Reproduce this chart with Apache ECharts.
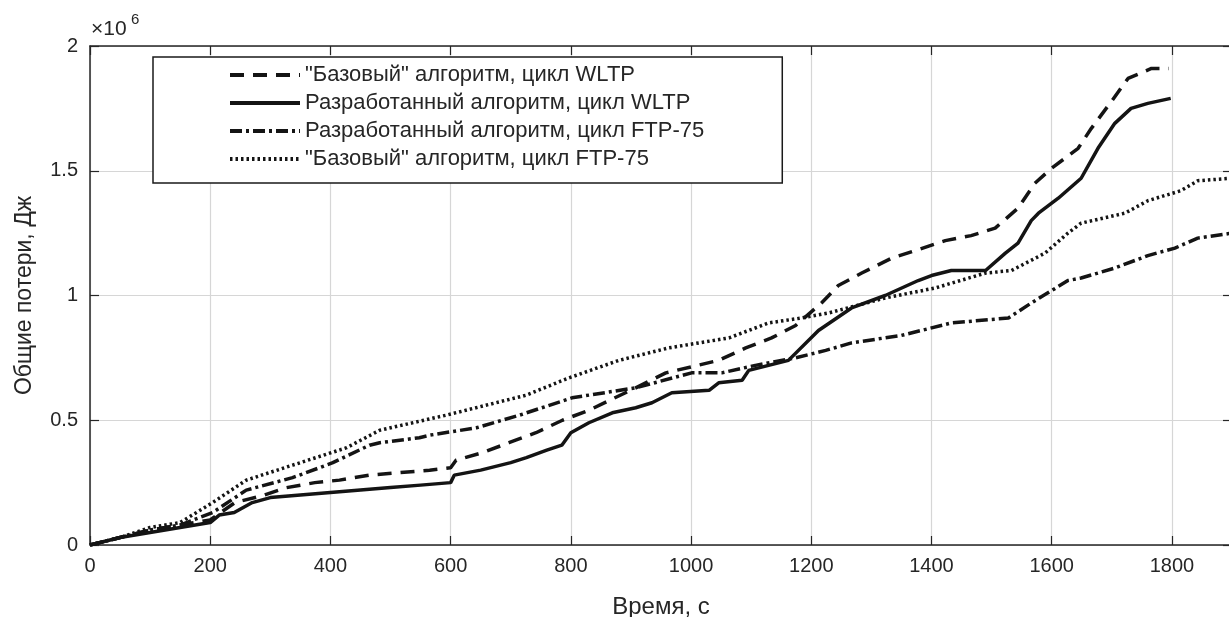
<!DOCTYPE html>
<html>
<head>
<meta charset="utf-8">
<script src="https://cdn.jsdelivr.net/npm/echarts@6/dist/echarts.min.js"></script>
<style>
html,body{margin:0;padding:0;background:#fff;}
#chart{width:1229px;height:617px;}
</style>
</head>
<body>
<div id="chart"></div>
<script>
// Time axis values (s) and total losses (x10^6 J)
const seriesNames = [
  '"Базовый" алгоритм, цикл WLTP',
  'Разработанный алгоритм, цикл WLTP',
  'Разработанный алгоритм, цикл FTP-75',
  '"Базовый" алгоритм, цикл FTP-75'
];

const baseWltpT = [0, 50, 100, 150, 200, 241, 290, 327, 374, 415, 465, 565, 600, 609, 653, 697, 742, 786, 830, 908, 958, 1046, 1091, 1134, 1174, 1217, 1245, 1284, 1334, 1373, 1423, 1466, 1506, 1544, 1572, 1600, 1644, 1666, 1700, 1727, 1766, 1795];
const baseWltpE = [0, 0.03, 0.06, 0.08, 0.10, 0.17, 0.20, 0.23, 0.25, 0.26, 0.28, 0.30, 0.31, 0.34, 0.37, 0.41, 0.45, 0.50, 0.54, 0.63, 0.69, 0.74, 0.79, 0.83, 0.88, 0.97, 1.04, 1.09, 1.15, 1.18, 1.22, 1.24, 1.27, 1.35, 1.45, 1.51, 1.59, 1.67, 1.78, 1.87, 1.91, 1.91];

const devWltpT = [0, 50, 100, 150, 200, 215, 240, 270, 300, 350, 400, 450, 500, 550, 600, 606, 650, 700, 726, 760, 785, 800, 830, 869, 908, 935, 968, 1030, 1046, 1085, 1096, 1129, 1162, 1212, 1267, 1323, 1378, 1400, 1433, 1490, 1523, 1544, 1566, 1578, 1611, 1649, 1677, 1705, 1732, 1760, 1798];
const devWltpE = [0, 0.03, 0.05, 0.07, 0.09, 0.12, 0.13, 0.17, 0.19, 0.20, 0.21, 0.22, 0.23, 0.24, 0.25, 0.28, 0.30, 0.33, 0.35, 0.38, 0.40, 0.45, 0.49, 0.53, 0.55, 0.57, 0.61, 0.62, 0.65, 0.66, 0.70, 0.72, 0.74, 0.86, 0.95, 1.00, 1.06, 1.08, 1.10, 1.10, 1.17, 1.21, 1.30, 1.33, 1.39, 1.47, 1.59, 1.69, 1.75, 1.77, 1.79];

const devFtpT = [0, 50, 100, 150, 204, 260, 337, 382, 404, 465, 482, 548, 565, 643, 714, 802, 908, 1001, 1051, 1107, 1174, 1224, 1267, 1350, 1433, 1528, 1566, 1600, 1627, 1649, 1705, 1760, 1805, 1843, 1900];
const devFtpE = [0, 0.03, 0.06, 0.08, 0.13, 0.22, 0.27, 0.31, 0.33, 0.40, 0.41, 0.43, 0.44, 0.47, 0.52, 0.59, 0.63, 0.69, 0.69, 0.72, 0.75, 0.78, 0.81, 0.84, 0.89, 0.91, 0.97, 1.02, 1.06, 1.07, 1.11, 1.16, 1.19, 1.23, 1.25];

const baseFtpT = [0, 50, 100, 150, 204, 260, 337, 427, 482, 592, 675, 725, 797, 880, 963, 1063, 1129, 1184, 1229, 1323, 1406, 1490, 1533, 1589, 1627, 1649, 1722, 1760, 1815, 1843, 1900];
const baseFtpE = [0, 0.03, 0.07, 0.09, 0.17, 0.26, 0.32, 0.39, 0.46, 0.52, 0.57, 0.60, 0.67, 0.74, 0.79, 0.83, 0.89, 0.91, 0.93, 0.99, 1.03, 1.09, 1.10, 1.17, 1.25, 1.29, 1.33, 1.38, 1.42, 1.46, 1.47];

const xTicks = [0, 200, 400, 600, 800, 1000, 1200, 1400, 1600, 1800];
const yTicks = [0, 0.5, 1, 1.5, 2];

function pairs(t, e) { return t.map((v, i) => [v, e[i]]); }

const FONT = '"Liberation Sans", Arial, Helvetica, sans-serif';
const TXT = '#262626';
const LINE = '#141414';

const chart = echarts.init(document.getElementById('chart'), null, {renderer: 'canvas'});

function mkSeries(name, t, e, dash) {
  return {
    name: name,
    type: 'line',
    data: pairs(t, e),
    showSymbol: false,
    symbol: 'none',
    smooth: false,
    lineStyle: {color: LINE, width: 3.5, type: dash},
    itemStyle: {color: LINE},
    animation: false,
    z: 5
  };
}

function axisBase(extra) {
  return Object.assign({
    axisLine: {show: true, onZero: false, lineStyle: {color: '#262626', width: 1.5}},
    axisTick: {show: true, inside: true, length: 9, lineStyle: {color: '#262626', width: 1.2}}
  }, extra);
}

const option = {
  backgroundColor: '#fff',
  animation: false,
  textStyle: {fontFamily: FONT},
  grid: {left: 90, top: 46, bottom: 72, right: -3, containLabel: false, outerBoundsMode: 'none'},
  legend: {
    orient: 'vertical',
    left: 153,
    top: 57,
    padding: [7, 78, 13, 75],
    itemGap: 6,
    itemWidth: 70,
    itemHeight: 22,
    backgroundColor: '#fff',
    borderColor: '#1a1a1a',
    borderWidth: 1.5,
    borderRadius: 0,
    itemStyle: {opacity: 0},
    lineStyle: {width: 4},
    textStyle: {fontFamily: FONT, fontSize: 22, lineHeight: 22, color: TXT},
    data: seriesNames
  },
  xAxis: [axisBase({
    type: 'value',
    min: 0, max: 1900, interval: 200,
    position: 'bottom',
    axisLabel: {show: true, margin: 11, fontSize: 20, color: TXT, fontFamily: FONT,
      formatter: v => xTicks.indexOf(v) >= 0 ? String(v) : ''},
    splitLine: {show: true, lineStyle: {color: '#d6d6d6', width: 1.2}},
    name: 'Время, с',
    nameLocation: 'middle',
    nameGap: 50,
    nameTextStyle: {fontSize: 24, color: TXT, fontFamily: FONT}
  }), axisBase({
    type: 'value',
    min: 0, max: 1900, interval: 200,
    position: 'top',
    axisLabel: {show: false},
    splitLine: {show: false}
  })],
  yAxis: [axisBase({
    type: 'value',
    min: 0, max: 2, interval: 0.5,
    position: 'left',
    axisLabel: {show: true, margin: 12, fontSize: 20, color: TXT, fontFamily: FONT,
      formatter: v => yTicks.indexOf(v) >= 0 ? String(v) : ''},
    splitLine: {show: true, lineStyle: {color: '#d6d6d6', width: 1.2}},
    name: 'Общие потери, Дж',
    nameLocation: 'middle',
    nameGap: 54,
    nameRotate: 90,
    nameTextStyle: {fontSize: 23, color: TXT, fontFamily: FONT}
  }), axisBase({
    type: 'value',
    min: 0, max: 2, interval: 0.5,
    position: 'right',
    axisLabel: {show: false},
    splitLine: {show: false}
  })],
  graphic: [
    {type: 'text', left: 91, top: 19, style: {text: '×10', font: '21px ' + FONT, fill: TXT}},
    {type: 'text', left: 131, top: 12, style: {text: '6', font: '15px ' + FONT, fill: TXT}}
  ],
  series: [
    mkSeries(seriesNames[0], baseWltpT, baseWltpE, [14, 9]),
    mkSeries(seriesNames[1], devWltpT, devWltpE, 'solid'),
    mkSeries(seriesNames[2], devFtpT, devFtpE, [12, 4, 3, 4]),
    mkSeries(seriesNames[3], baseFtpT, baseFtpE, [2.5, 3])
  ]
};

chart.setOption(option);
</script>
</body>
</html>
